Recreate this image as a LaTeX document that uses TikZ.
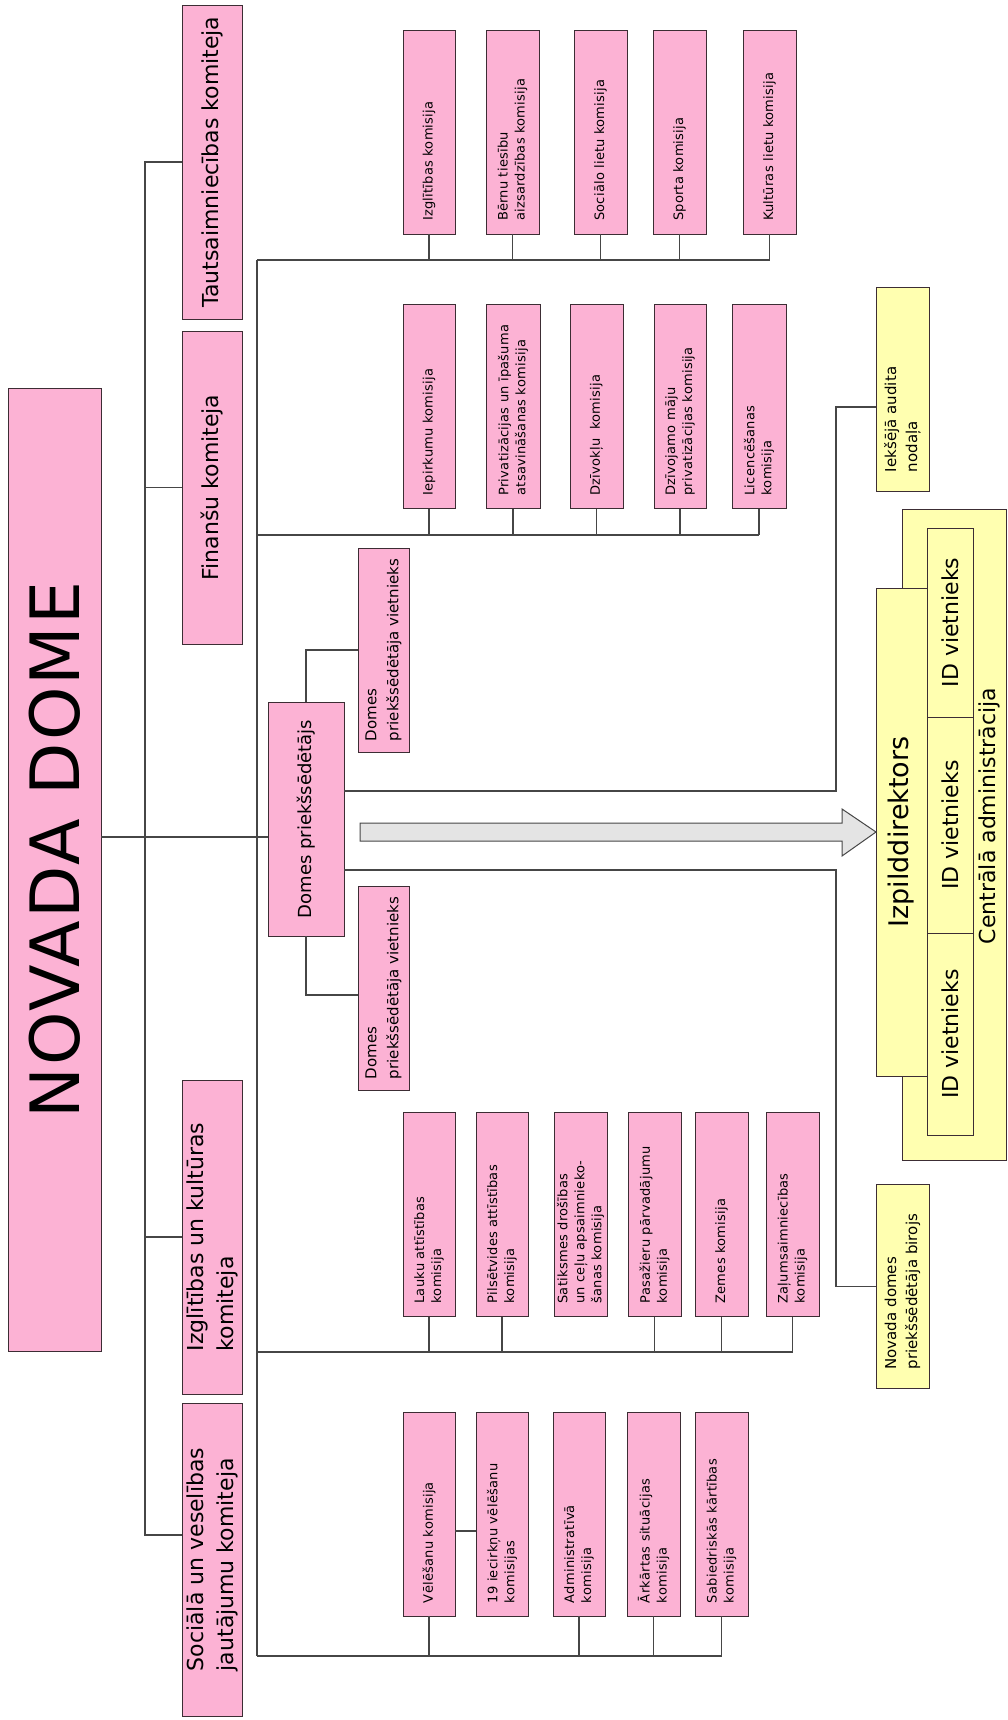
\documentclass[tikz,border=0pt]{standalone}
\usepackage{fontspec}
\setmainfont{DejaVu Sans}
\definecolor{pinkc}{RGB}{252,178,212}
\definecolor{yelc}{RGB}{255,255,176}
\definecolor{boxline}{RGB}{60,45,52}
\definecolor{linec}{RGB}{70,70,70}
\definecolor{arrc}{RGB}{228,228,228}
\begin{document}
\begin{tikzpicture}[x=1pt,y=-1pt,
  base/.style={draw=boxline, line width=0.9pt, rotate=90, inner sep=0pt, outer sep=0pt},
  comm/.style={base, fill=pinkc, minimum width=204pt, minimum height=#1, text width=178pt, align=left, font=\fontsize{13}{17}\selectfont\addfontfeatures{LetterSpace=2}},
  kom/.style={base, fill=pinkc, minimum width=#1, minimum height=60pt, align=left, font=\fontsize{22}{30}\selectfont},
  vice/.style={base, fill=pinkc, minimum width=204pt, minimum height=51pt, align=left, font=\fontsize{15}{22}\selectfont},
  yel/.style={base, fill=yelc},
  side/.style={yel, minimum width=204pt, minimum height=53pt, text width=166pt, align=left, font=\fontsize{15}{21}\selectfont},
  conn/.style={draw=linec, line width=1.1pt},
  bigarrow/.style={draw=linec, line width=1pt, fill=arrc}]
\useasboundingbox (0,0) rectangle (1008,1720);

% main council
\node[base, fill=pinkc, minimum width=963pt, minimum height=93pt, font=\fontsize{68}{80}\selectfont\addfontfeatures{LetterSpace=3}] (nov) at (54.5,869.5) {\hspace*{39pt}NOVADA DOME};

% committees
\node[kom=314pt] (taut) at (212,162) {Tautsaimniecības komiteja};
\node[kom=313pt] (fin) at (212,487.5) {Finanšu komiteja};
\node[kom=314pt] (ikk) at (212,1237) {Izglītības un kultūras\\komiteja};
\node[kom=313pt] (svj) at (212,1559.5) {Sociālā un veselības\\jautājumu komiteja};

% chairman and deputies
\node[base, fill=pinkc, minimum width=234pt, minimum height=76pt, font=\fontsize{18}{22}\selectfont] (dp) at (306,819) {Domes priekšsēdētājs};
\node[vice] (v1) at (383.5,650) {Domes\\priekšsēdētāja vietnieks};
\node[vice] (v2) at (383.5,988) {Domes\\priekšsēdētāja vietnieks};

% row 1
\node[comm=52pt] (izg) at (429,132) {Izglītības komisija};
\node[comm=53pt] (bern) at (512.5,132) {Bērnu tiesību\\aizsardzības komisija};
\node[comm=53pt] (socl) at (600.5,132) {Sociālo lietu komisija};
\node[comm=53pt] (sport) at (679.5,132) {Sporta komisija};
\node[comm=53pt] (kult) at (769.5,132) {Kultūras lietu komisija};

% row 2
\node[comm=52pt] (iep) at (429,406.5) {Iepirkumu komisija};
\node[comm=54pt] (priv) at (513,406.5) {Privatizācijas un īpašuma\\atsavināšanas komisija};
\node[comm=53pt] (dziv) at (596.5,406.5) {Dzīvokļu \ komisija};
\node[comm=52pt] (dzm) at (680,406.5) {Dzīvojamo māju\\privatizācijas komisija};
\node[comm=54pt] (lic) at (759,406.5) {Licencēšanas\\komisija};

% row 3
\node[comm=52pt] (lauku) at (429,1214.5) {Lauku attīstības\\komisija};
\node[comm=52pt] (pils) at (502,1214.5) {Pilsētvides attīstības\\komisija};
\node[comm=53pt] (sat) at (580.5,1214.5) {Satiksmes drošības\\un ceļu apsaimnieko-\\šanas komisija};
\node[comm=53pt] (pas) at (654.5,1214.5) {Pasažieru pārvadājumu\\komisija};
\node[comm=53pt] (zem) at (721.5,1214.5) {Zemes komisija};
\node[comm=53pt] (zal) at (792.5,1214.5) {Zaļumsaimniecības\\komisija};

% row 4
\node[comm=52pt] (vel) at (429,1514) {Vēlēšanu komisija};
\node[comm=52pt] (iec) at (502,1514) {19 iecirkņu vēlēšanu\\komisijas};
\node[comm=52pt] (adm) at (579,1514) {Administratīvā\\komisija};
\node[comm=53pt] (ark) at (653.5,1514) {Ārkārtas situācijas\\komisija};
\node[comm=53pt] (sab) at (721.5,1514) {Sabiedriskās kārtības\\komisija};

% administration
\node[yel, minimum width=651pt, minimum height=104pt] (cadm) at (954,834.5) {};
\node[rotate=90, font=\fontsize{22}{26}\selectfont] (cadmt) at (989.5,816) {Centrālā administrācija};
\node[yel, minimum width=189pt, minimum height=46pt, font=\fontsize{22}{26}\selectfont] (id1) at (950,622.5) {ID vietnieks};
\node[yel, minimum width=216pt, minimum height=46pt, font=\fontsize{22}{26}\selectfont] (id2) at (950,825) {ID vietnieks};
\node[yel, minimum width=202pt, minimum height=46pt, font=\fontsize{22}{26}\selectfont] (id3) at (950,1034) {ID vietnieks};
\node[yel, minimum width=488pt, minimum height=51pt, font=\fontsize{27}{32}\selectfont] (izp) at (901.5,832) {Izpilddirektors};
\node[side] (iek) at (902.5,389) {Iekšējā audita\\nodaļa};
\node[side] (bir) at (902.5,1286.5) {Novada domes\\priekšsēdētāja birojs};

% connector coordinates
\coordinate (t1top) at (145,162);
\coordinate (t1bot) at (145,1535);
\coordinate (t2top) at (257,260);
\coordinate (t2bot) at (257,1656);
\coordinate (b2) at (257,535);
\coordinate (b3) at (257,1352);
\coordinate (r1) at (836,791);
\coordinate (r2) at (836,870);

% committee trunk
\draw[conn] (taut.north) -- (t1top) -- (t1bot) -- (svj.north |- t1bot);
\draw[conn] (t1top |- fin.north) -- (fin.north);
\draw[conn] (t1top |- ikk.north) -- (ikk.north);
\draw[conn] (nov.south |- 0,837) -- (dp.north |- 0,837);

% commission trunk and buses
\draw[conn] (t2top) -- (t2bot);
\draw[conn] (t2top) -- (kult.west |- t2top);
\draw[conn] (b2) -- (lic.west |- b2);
\draw[conn] (b3) -- (zal.west |- b3);
\draw[conn] (t2bot) -- (sab.west |- t2bot);
\foreach \n in {izg,bern,socl,sport,kult} \draw[conn] (\n.west) -- (\n.west |- t2top);
\foreach \n in {iep,priv,dziv,dzm,lic} \draw[conn] (\n.west) -- (\n.west |- b2);
\foreach \n in {lauku,pils,pas,zem,zal} \draw[conn] (\n.west) -- (\n.west |- b3);
\foreach \n in {vel,adm,ark,sab} \draw[conn] (\n.west) -- (\n.west |- t2bot);
\draw[conn] (vel.south |- 0,1531) -- (iec.north |- 0,1531);

% chairman links
\draw[conn] (dp.east) |- (v1.north);
\draw[conn] (dp.west) |- (v2.north |- 0,995);
\draw[conn] (dp.south |- r1) -- (r1) |- (iek.north |- 0,407);
\draw[conn] (dp.south |- r2) -- (r2) |- (bir.north);

% big arrow to executive director
\draw[bigarrow] (360,823) -- (842,823) -- (842,809) -- (izp.north) -- (842,856) -- (842,841) -- (360,841) -- cycle;
\end{tikzpicture}
\end{document}
